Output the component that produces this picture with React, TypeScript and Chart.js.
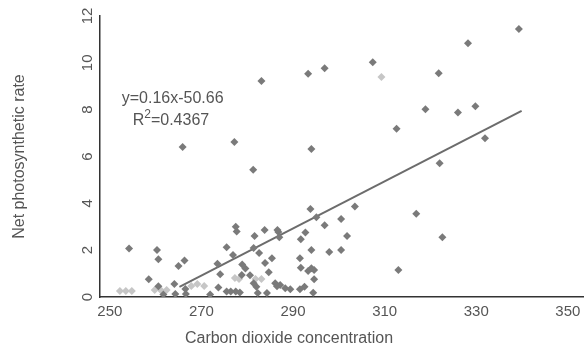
import React, { useEffect, useRef } from 'react';
import { Chart, registerables } from 'chart.js';

Chart.register(...registerables);

// ---- data ----
const X_TICKS = [250, 270, 290, 310, 330, 350];
const Y_TICKS = [0, 2, 4, 6, 8, 10, 12];

const CO2 = [
  293.3, 296.9, 307.4, 321.8, 328.2, 339.3, 318.9, 326.0, 329.8, 312.6,
  331.9, 294.0, 283.1, 277.2, 281.3, 265.9, 322.0, 293.8, 295.1, 303.5,
  316.9, 296.9, 300.5, 322.6, 286.8, 292.7, 291.7, 301.8, 294.0, 297.9,
  300.5, 291.5, 291.7, 294.0, 293.3, 294.6, 294.6, 313.0, 287.2, 288.3,
  289.4, 291.5, 292.5, 294.4, 277.5, 277.7, 281.6, 283.8, 286.6, 287.0,
  275.5, 281.4, 276.9, 282.6, 285.4, 273.5, 278.9, 279.6, 283.9, 274.1,
  284.7, 280.6, 278.8, 281.4, 282.0, 273.7, 286.1, 286.5, 271.9, 275.5,
  276.4, 277.5, 278.4, 282.3, 284.3, 254.2, 260.3, 260.6, 265.0, 266.3,
  258.5, 260.6, 264.1, 261.7, 264.3, 266.6, 266.5,
];
const RATE = [
  9.53, 9.77, 10.03, 9.56, 10.84, 11.44, 8.02, 7.88, 8.15, 7.19,
  6.78, 6.32, 9.22, 6.62, 5.43, 6.41, 5.71, 3.76, 3.41, 3.86,
  3.55, 3.06, 3.33, 2.55, 2.78, 2.75, 2.47, 2.61, 2.01, 1.92,
  2.01, 1.65, 1.25, 1.23, 1.11, 1.15, 0.76, 1.15, 0.51, 0.37,
  0.33, 0.33, 0.44, 0.18, 3.0, 2.8, 2.61, 2.86, 2.86, 2.55,
  2.12, 2.09, 1.79, 1.88, 1.65, 1.42, 1.39, 1.22, 1.45, 0.97,
  1.06, 0.93, 0.94, 0.59, 0.44, 0.41, 0.59, 0.46, 0.11, 0.23,
  0.23, 0.23, 0.19, 0.17, 0.17, 2.07, 2.01, 1.61, 1.32, 1.56,
  0.76, 0.46, 0.56, 0.11, 0.13, 0.13, 0.34,
];

// faint (washed-out) markers
const CO2_FAINT = [309.3, 252.2, 253.5, 254.8, 259.8, 261.1, 262.4, 267.8, 269.1, 270.6, 277.3, 278.2, 281.8, 283.1];
const RATE_FAINT = [9.39, 0.26, 0.26, 0.26, 0.3, 0.3, 0.3, 0.47, 0.56, 0.47, 0.81, 0.77, 0.77, 0.77];

// linear trendline end points
const TREND_CO2 = [265.2, 339.9];
const TREND_RATE = [0.43, 7.95];

const EQUATION = 'y=0.16x-50.66';
const R2_TEXT = '=0.4367';
const X_TITLE = 'Carbon dioxide concentration';
const Y_TITLE = 'Net photosynthetic rate';

// anchors (data space) for the equation labels
const EQ_AT = { x: 252.6, y: 8.46 };
const R2_AT = { x: 255.0, y: 7.52 };

const TEXT = '#555555';
const MARK = '#7a7a7a';
const FONT = '"Liberation Sans", Arial, sans-serif';

const textPlugin = {
  id: 'extraText',
  afterDraw(chart: any) {
    const { ctx, scales, chartArea } = chart;
    const x = scales.x;
    const y = scales.y;
    ctx.save();
    ctx.fillStyle = TEXT;
    ctx.textBaseline = 'middle';
    ctx.textAlign = 'left';
    ctx.font = `16px ${FONT}`;
    ctx.fillText(EQUATION, x.getPixelForValue(EQ_AT.x), y.getPixelForValue(EQ_AT.y));
    let px = x.getPixelForValue(R2_AT.x);
    const py = y.getPixelForValue(R2_AT.y);
    ctx.fillText('R', px, py);
    px += ctx.measureText('R').width;
    ctx.font = `12px ${FONT}`;
    ctx.fillText('2', px, py - 6);
    px += ctx.measureText('2').width;
    ctx.font = `16px ${FONT}`;
    ctx.fillText(R2_TEXT, px, py);
    // x-axis title
    ctx.textAlign = 'center';
    ctx.fillText(X_TITLE, chartArea.left + 189, chart.height - 10);
    ctx.restore();
  },
};

export default function App() {
  const ref = useRef<HTMLCanvasElement>(null);

  useEffect(() => {
    document.body.style.margin = '0';
    const canvas = ref.current;
    if (!canvas) return;
    const chart = new Chart(canvas, {
      type: 'scatter',
      data: {
        datasets: [
          {
            label: 'rate',
            data: CO2.map((c, i) => ({ x: c, y: RATE[i] })),
            pointStyle: 'rectRot',
            pointRadius: 4,
            pointBackgroundColor: MARK,
            pointBorderColor: MARK,
            pointBorderWidth: 0,
          },
          {
            type: 'line',
            label: 'trend',
            data: TREND_CO2.map((c, i) => ({ x: c, y: TREND_RATE[i] })),
            borderColor: '#6c6c6c',
            borderWidth: 2,
            pointRadius: 0,
            fill: false,
          } as any,
          {
            label: 'faint',
            data: CO2_FAINT.map((c, i) => ({ x: c, y: RATE_FAINT[i] })),
            pointStyle: 'rectRot',
            pointRadius: 4,
            pointBackgroundColor: '#c6c6c6',
            pointBorderColor: '#c6c6c6',
            pointBorderWidth: 0,
          },
        ],
      },
      options: {
        animation: false,
        responsive: false,
        devicePixelRatio: 1,
        layout: { padding: { top: 16, left: 0, right: 0, bottom: 0 } },
        plugins: { legend: { display: false }, tooltip: { enabled: false } },
        scales: {
          x: {
            type: 'linear',
            min: 247.86,
            max: 353.3,
            afterBuildTicks: (scale: any) => {
              scale.ticks = X_TICKS.map((v) => ({ value: v }));
            },
            afterFit: (scale: any) => {
              scale.height = 52;
            },
            grid: { display: false, drawTicks: false },
            border: { display: true, color: '#333333', width: 1.5 },
            ticks: { color: TEXT, font: { family: FONT, size: 15 }, padding: 6, maxRotation: 0, minRotation: 0 },
            title: { display: false },
          },
          y: {
            type: 'linear',
            min: 0,
            max: 12,
            afterBuildTicks: (scale: any) => {
              scale.ticks = Y_TICKS.map((v) => ({ value: v }));
            },
            afterFit: (scale: any) => {
              scale.width = 100;
            },
            grid: { display: false, drawTicks: false },
            border: { display: true, color: '#333333', width: 1.5 },
            ticks: {
              color: TEXT,
              font: { family: FONT, size: 15 },
              padding: 4,
              minRotation: 90,
              maxRotation: 90,
              crossAlign: 'center',
            },
            title: {
              display: true,
              text: Y_TITLE,
              color: TEXT,
              font: { family: FONT, size: 16 },
              padding: { top: 10, bottom: 0 },
            },
          },
        },
      },
      plugins: [textPlugin],
    });
    return () => chart.destroy();
  }, []);

  return (
    <div style={{ width: 587, height: 349 }}>
      <canvas ref={ref} width={587} height={349} style={{ display: 'block' }} />
    </div>
  );
}
